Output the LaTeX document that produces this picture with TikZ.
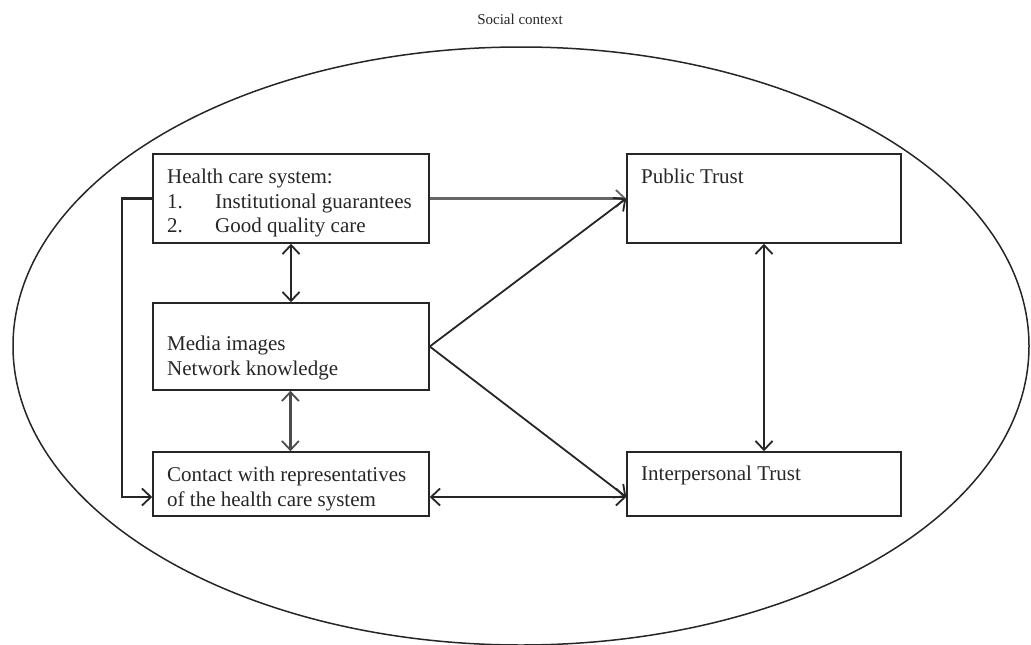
\documentclass[tikz,border=0pt]{standalone}
\usepackage{fontspec}
\setmainfont{Liberation Serif}
\usetikzlibrary{arrows.meta,calc}
\begin{document}
\begin{tikzpicture}[x=1pt,y=-1pt,
  box/.style={draw=black!85, line width=1.5pt, rectangle, inner sep=0pt},
  txt/.style={anchor=north west, inner sep=0pt, align=left, font=\fontsize{21}{24.5}\selectfont, text=black!85},
  conn/.style={line width=1.8pt, draw=black!85, {Straight Barb[length=9pt,width=17pt,line width=1.8pt]}-{Straight Barb[length=9pt,width=17pt,line width=1.8pt]}},
  oneway/.style={line width=1.8pt, draw=black!85, -{Straight Barb[length=9pt,width=17pt,line width=1.8pt]}},
  greyline/.style={draw=black!60, line width=2.4pt}
]
\useasboundingbox (0,0) rectangle (1031,645);
\draw[line width=1.5pt, draw=black!85] (521,346) ellipse [x radius=508, y radius=299];
\node[font=\fontsize{15}{18}\selectfont, anchor=base, text=black!85] (title) at (520,24) {Social context};

\node[box, minimum width=276pt, minimum height=89pt] (hcs) at (291,198.5) {};
\node[box, minimum width=276pt, minimum height=87pt] (media) at (291,346.5) {};
\node[box, minimum width=276pt, minimum height=64pt] (contact) at (291,484) {};
\node[box, minimum width=274pt, minimum height=89pt] (public) at (764,198.5) {};
\node[box, minimum width=274pt, minimum height=64pt] (inter) at (764,484) {};

\node[txt] (thcs) at (167,169) {Health care system:\\\makebox[48pt][l]{1.}Institutional guarantees\\\makebox[48pt][l]{2.}Good quality care};
\node[txt] (tmedia) at (167,336) {Media images\\Network knowledge};
\node[txt] (tcontact) at (167,467) {Contact with representatives\\of the health care system};
\node[txt] (tpublic) at (641,169) {Public Trust};
\node[txt] (tinter) at (641,466) {Interpersonal Trust};

\coordinate (ci) at (0,497);
\coordinate (mx) at (290.4,0);

\draw[oneway, greyline] (hcs.east) -- (public.west);
\draw[oneway] (media.east) -- (public.west);
\draw[oneway] (media.east) -- (inter.west |- ci);
\draw[conn] (contact.east |- ci) -- (inter.west |- ci);
\draw[conn] (hcs.south) -- (media.north);
\draw[conn, draw=black!70, line width=2.2pt] (mx |- media.south) -- (mx |- contact.north);
\draw[conn] (public.south) -- (inter.north);
\draw[oneway, line width=2.2pt] (hcs.west) -- ++(-30,0) |- (contact.west |- ci);
\end{tikzpicture}
\end{document}
